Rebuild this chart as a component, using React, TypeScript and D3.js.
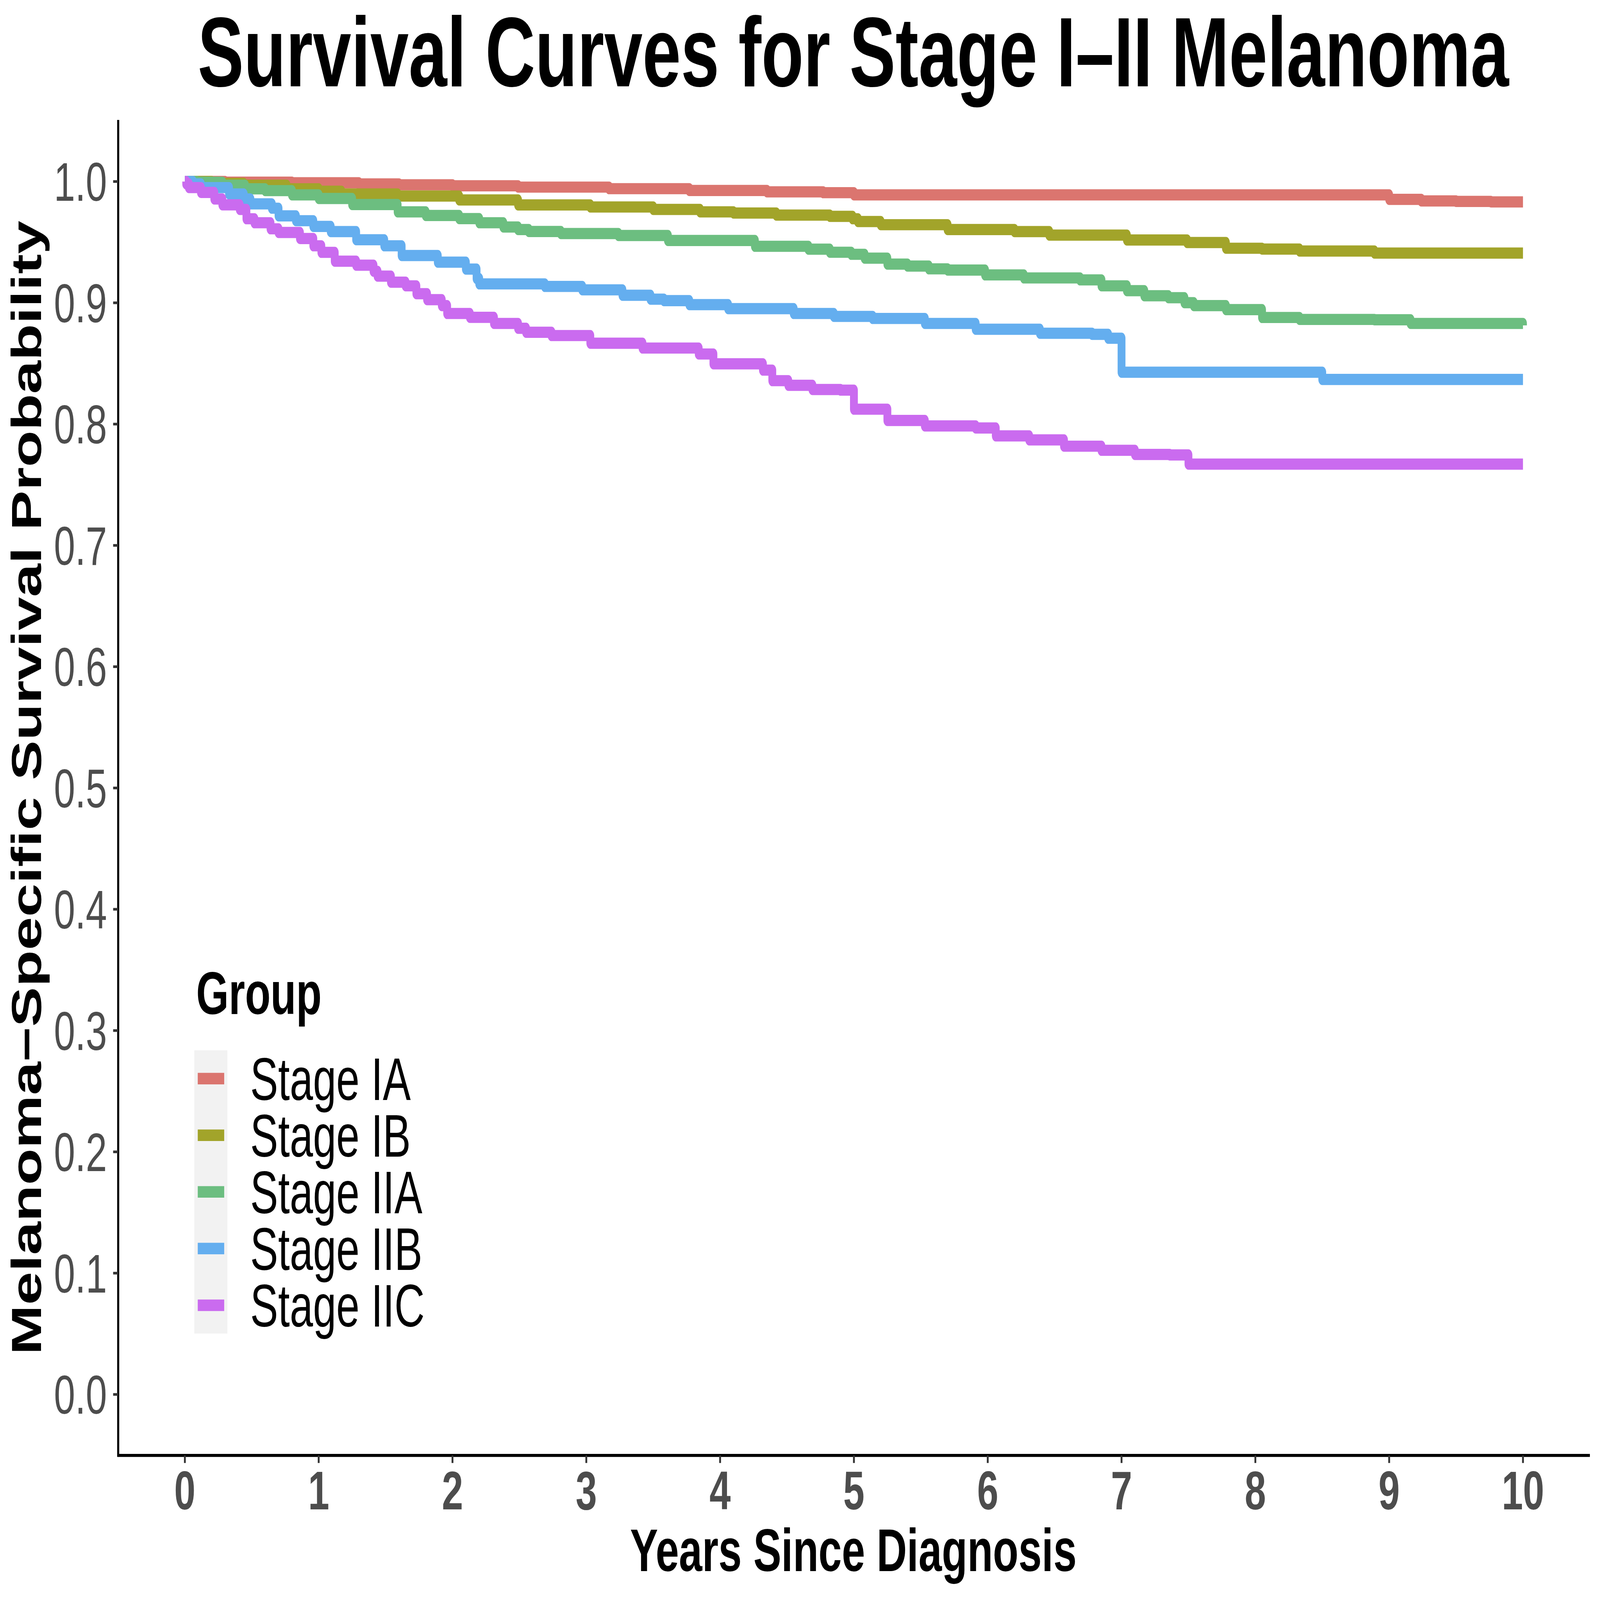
import React from "react";
import * as d3 from "d3";

const W = 6958;
const H = 4858;

const groups = ["Stage IA", "Stage IB", "Stage IIA", "Stage IIB", "Stage IIC"];
const colors = ["#DB756F", "#A2A42A", "#6CBE80", "#64AEEF", "#CA6BEF"];

const xTicks = [0, 1, 2, 3, 4, 5, 6, 7, 8, 9, 10];
const yTicks = [0, 0.1, 0.2, 0.3, 0.4, 0.5, 0.6, 0.7, 0.8, 0.9, 1.0];

const tIA = [0, 0.3, 0.8, 1.3, 1.6, 2.0, 2.49, 3.17, 3.77, 4.35, 4.77, 5.0, 9.0, 9.24, 9.5, 9.76, 10];
const sIA = [1.0, 0.9995, 0.999, 0.998, 0.9973, 0.9965, 0.9954, 0.9941, 0.9926, 0.9915, 0.9908, 0.989, 0.9853, 0.984, 0.9836, 0.9832, 0.9832];

const tIB = [0, 0.2, 0.44, 0.76, 1.0, 1.17, 1.59, 2.05, 2.49, 3.03, 3.5, 3.85, 4.1, 4.42, 4.82, 4.99, 5.03, 5.2, 5.7, 6.2, 6.46, 7.04, 7.49, 7.78, 8.05, 8.33, 8.89, 10];
const sIB = [1.0, 0.9985, 0.997, 0.994, 0.992, 0.9897, 0.988, 0.9848, 0.9807, 0.979, 0.977, 0.975, 0.974, 0.9723, 0.9713, 0.9693, 0.967, 0.9644, 0.9604, 0.9587, 0.9558, 0.9518, 0.9497, 0.945, 0.9443, 0.9427, 0.941, 0.941];

const tIIA = [0, 0.09, 0.28, 0.45, 0.6, 0.8, 1.0, 1.25, 1.59, 1.8, 2.05, 2.2, 2.38, 2.49, 2.57, 2.81, 3.24, 3.61, 4.26, 4.66, 4.82, 4.98, 5.08, 5.25, 5.4, 5.56, 5.7, 5.98, 6.27, 6.69, 6.85, 7.04, 7.17, 7.35, 7.47, 7.54, 7.78, 8.05, 8.33, 8.89, 9.16, 10];
const sIIA = [1.0, 0.9995, 0.997, 0.994, 0.9925, 0.989, 0.986, 0.981, 0.975, 0.972, 0.9694, 0.966, 0.9625, 0.9604, 0.9588, 0.9571, 0.9555, 0.9514, 0.9466, 0.9442, 0.9417, 0.94, 0.9368, 0.9319, 0.9303, 0.928, 0.927, 0.923, 0.9205, 0.9189, 0.914, 0.91, 0.9058, 0.9042, 0.9001, 0.8977, 0.8944, 0.8879, 0.8863, 0.886, 0.883, 0.8814];

const tIIB = [0, 0.06, 0.12, 0.33, 0.44, 0.49, 0.65, 0.7, 0.83, 0.96, 1.09, 1.28, 1.49, 1.62, 1.89, 2.1, 2.18, 2.2, 2.69, 2.97, 3.27, 3.48, 3.58, 3.77, 4.06, 4.55, 4.85, 5.14, 5.53, 5.91, 6.39, 6.78, 6.9, 7.0, 8.5, 10];
const sIIB = [1.0, 0.998, 0.995, 0.9897, 0.9856, 0.9816, 0.978, 0.9717, 0.9677, 0.963, 0.9587, 0.952, 0.947, 0.939, 0.9335, 0.9278, 0.92, 0.9156, 0.9135, 0.9107, 0.9062, 0.903, 0.9018, 0.8985, 0.8952, 0.8912, 0.8888, 0.8871, 0.883, 0.8782, 0.8749, 0.874, 0.8708, 0.8428, 0.8368, 0.8368];

const tIIC = [0, 0.01, 0.03, 0.12, 0.22, 0.28, 0.41, 0.46, 0.52, 0.64, 0.7, 0.86, 0.96, 1.02, 1.12, 1.28, 1.41, 1.44, 1.54, 1.65, 1.73, 1.81, 1.92, 1.96, 2.13, 2.31, 2.49, 2.55, 2.74, 3.03, 3.42, 3.84, 3.95, 4.32, 4.39, 4.51, 4.69, 4.9, 5.0, 5.25, 5.53, 5.91, 6.06, 6.31, 6.57, 6.85, 7.1, 7.36, 7.5, 10];
const sIIC = [1.0, 0.998, 0.995, 0.991, 0.9856, 0.9808, 0.977, 0.9693, 0.966, 0.961, 0.958, 0.953, 0.947, 0.9416, 0.9343, 0.931, 0.926, 0.922, 0.917, 0.914, 0.9075, 0.9026, 0.8977, 0.8912, 0.888, 0.883, 0.879, 0.8757, 0.873, 0.8667, 0.8627, 0.8578, 0.8497, 0.8445, 0.8358, 0.832, 0.8285, 0.828, 0.8123, 0.803, 0.7985, 0.7968, 0.7903, 0.787, 0.7818, 0.7784, 0.775, 0.7746, 0.767, 0.767];

const seriesTimes = [tIA, tIB, tIIA, tIIB, tIIC];
const seriesSurv = [sIA, sIB, sIIA, sIIB, sIIC];

const FONT = "'Liberation Sans', Arial, Helvetica, sans-serif";

export default function App() {
  const x = d3.scaleLinear().domain([-0.5, 10.5]).range([513, 6914]);
  const y = d3.scaleLinear().domain([-0.05, 1.05]).range([4418, 367]);

  const line = d3
    .line<[number, number]>()
    .x((d) => x(d[0]))
    .y((d) => y(d[1]))
    .curve(d3.curveStepAfter);

  const axisY = 4419;
  const axisX = 514;

  const legendTop = 3189;
  const keyH = 172;

  return (
    <svg
      viewBox={`0 0 ${W} ${H}`}
      preserveAspectRatio="none"
      style={{ position: "fixed", left: 0, top: 0, width: "100vw", height: "100vh", display: "block", background: "#ffffff" }}
      fontFamily={FONT}
    >
      <rect x={0} y={0} width={W} height={H} fill="#ffffff" />

      {/* curves */}
      <g fill="none" strokeWidth={34} strokeLinejoin="round" strokeLinecap="butt">
        {seriesTimes.map((ts, i) => {
          const pts: [number, number][] = ts.map((t, j) => [t, seriesSurv[i][j]]);
          return <path key={groups[i]} d={line(pts) || ""} stroke={colors[i]} />;
        })}
      </g>

      {/* axis lines */}
      <line x1={axisX} x2={axisX} y1={364} y2={axisY + 4} stroke="#000" strokeWidth={9} />
      <line x1={axisX - 4} x2={6914} y1={axisY} y2={axisY} stroke="#000" strokeWidth={9} />

      {/* y ticks */}
      {yTicks.map((v) => (
        <g key={"y" + v}>
          <line x1={axisX - 22} x2={axisX} y1={y(v)} y2={y(v)} stroke="#333333" strokeWidth={8} />
          <text x={465} y={y(v) + 59} textAnchor="end" fontSize={166} fill="#4D4D4D">
            {v.toFixed(1)}
          </text>
        </g>
      ))}

      {/* x ticks */}
      {xTicks.map((v) => (
        <g key={"x" + v}>
          <line x1={x(v)} x2={x(v)} y1={axisY} y2={axisY + 23} stroke="#333333" strokeWidth={8} />
          <text x={x(v)} y={4583} textAnchor="middle" fontSize={166} fontWeight="bold" fill="#4D4D4D">
            {v}
          </text>
        </g>
      ))}

      {/* title */}
      <text x={3711} y={262} textAnchor="middle" fontSize={300} fontWeight="bold" fill="#000">
        Survival Curves for Stage I–II Melanoma
      </text>

      {/* axis titles */}
      <text x={3711} y={4770} textAnchor="middle" fontSize={182} fontWeight="bold" fill="#000">
        Years Since Diagnosis
      </text>
      <text
        transform={`translate(178, 2392) rotate(-90)`}
        textAnchor="middle"
        fontSize={182}
        fontWeight="bold"
        fill="#000"
      >
        Melanoma−Specific Survival Probability
      </text>

      {/* legend */}
      <text x={853} y={3079} fontSize={182} fontWeight="bold" fill="#000">
        Group
      </text>
      <rect x={845} y={legendTop} width={144} height={keyH * groups.length} fill="#F2F2F2" />
      {groups.map((g, i) => {
        const cy = legendTop + keyH * i + keyH / 2;
        return (
          <g key={"leg" + g}>
            <line x1={860} x2={975} y1={cy} y2={cy} stroke={colors[i]} strokeWidth={35} />
            <text x={1088} y={cy + 65} fontSize={182} fill="#000">
              {g}
            </text>
          </g>
        );
      })}
    </svg>
  );
}
